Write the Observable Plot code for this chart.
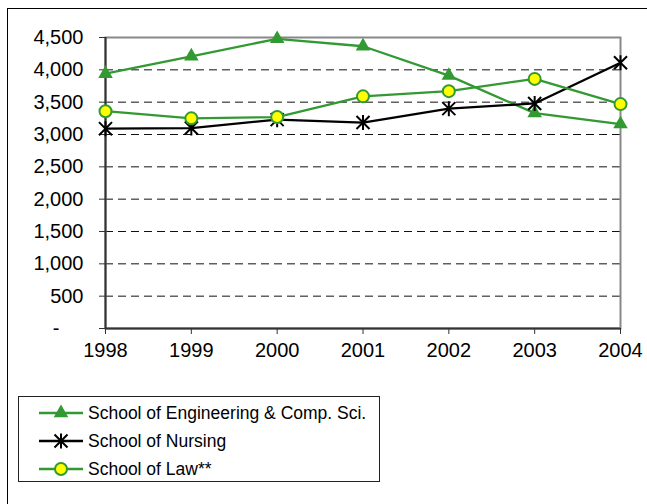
<!DOCTYPE html>
<html><head><meta charset="utf-8">
<script src="https://cdn.jsdelivr.net/npm/d3@7"></script>
<script src="https://cdn.jsdelivr.net/npm/@observablehq/plot@0.6"></script>
<style>
body{margin:0;background:#fff;font-family:"Liberation Sans",Arial,sans-serif;}
#wrap{position:relative;width:647px;height:504px;overflow:hidden;background:#fff;}
#border{position:absolute;left:7px;top:8px;width:700px;height:600px;border:1.5px solid #000;box-sizing:border-box;}
#chart{position:absolute;left:0;top:0;}
#legend{position:absolute;left:18px;top:396px;width:362px;height:86px;border:1px solid #222;box-sizing:border-box;}
.row{position:absolute;left:0;height:28px;width:360px;}
.row svg{position:absolute;left:0;top:0;}
.row span{position:absolute;left:69px;top:0;line-height:28px;font-size:17.5px;color:#000;white-space:nowrap;}
</style></head><body>
<div id="wrap"><div id="border"></div><div id="chart"></div><div id="legend"></div></div>
<script>
// ---- data ----
const years = [1998, 1999, 2000, 2001, 2002, 2003, 2004];
const engineering = [3940, 4210, 4480, 4365, 3910, 3330, 3160];
const nursing = [3090, 3100, 3230, 3185, 3400, 3480, 4110];
const law = [3360, 3250, 3270, 3590, 3670, 3860, 3470];
const seriesNames = ["School of Engineering & Comp. Sci.", "School of Nursing", "School of Law**"];
const yTicks = [0, 500, 1000, 1500, 2000, 2500, 3000, 3500, 4000, 4500];
const gridValues = [500, 1000, 1500, 2000, 2500, 3000, 3500, 4000];

const green = "#339933";
const toRows = (vals, name) => years.map((yr, i) => ({year: yr, value: vals[i], series: name}));
const engData = toRows(engineering, seriesNames[0]);
const nurData = toRows(nursing, seriesNames[1]);
const lawData = toRows(law, seriesNames[2]);

// Excel-like star marker: vertical bar + X
const star = {
  draw(ctx, size) {
    const r = Math.sqrt(size / Math.PI);
    const d = r * 0.87;
    ctx.moveTo(0, -r); ctx.lineTo(0, r);
    ctx.moveTo(-d, -d); ctx.lineTo(d, d);
    ctx.moveTo(-d, d); ctx.lineTo(d, -d);
  }
};

const fmt = d3.format(",");
const chart = Plot.plot({
  width: 647, height: 380,
  marginLeft: 105, marginRight: 27, marginTop: 37, marginBottom: 52,
  x: {domain: [1998, 2004]},
  y: {domain: [0, 4500]},
  style: {fontFamily: "'Liberation Sans', Arial, sans-serif", fontSize: "20px", color: "#000", background: "transparent", overflow: "visible"},
  marks: [
    Plot.ruleY(gridValues, {stroke: "#111", strokeDasharray: "8,5", strokeWidth: 1}),
    Plot.frame({stroke: "#888", strokeWidth: 2}),
    Plot.ruleX([1998], {stroke: "#333", strokeWidth: 2}),
    Plot.ruleY([0], {stroke: "#333", strokeWidth: 2}),
    Plot.axisY({ticks: yTicks.filter(d => d > 0), tickSize: 6, tickPadding: 16, tickFormat: fmt, stroke: "#333", fontSize: 20, label: null}),
    Plot.axisY({ticks: [0], tickSize: 6, tickPadding: 40, tickFormat: () => "-", stroke: "#333", fontSize: 20, label: null}),
    Plot.axisX({ticks: years, tickSize: 6, tickPadding: 8, tickFormat: d => String(d), stroke: "#333", fontSize: 20, label: null}),
    Plot.line(engData, {x: "year", y: "value", stroke: green, strokeWidth: 2.3}),
    Plot.dot(engData, {x: "year", y: "value", symbol: "triangle", r: 5.4, fill: green, stroke: "none"}),
    Plot.line(nurData, {x: "year", y: "value", stroke: "#000", strokeWidth: 2.3}),
    Plot.dot(nurData, {x: "year", y: "value", symbol: star, r: 7.5, fill: "none", stroke: "#000", strokeWidth: 2}),
    Plot.line(lawData, {x: "year", y: "value", stroke: green, strokeWidth: 2.3}),
    Plot.dot(lawData, {x: "year", y: "value", symbol: "circle", r: 6, fill: "#ffff00", stroke: green, strokeWidth: 2})
  ]
});
document.getElementById("chart").appendChild(chart);

// ---- legend ----
const legend = document.getElementById("legend");
const rowTops = [2, 30, 58];
const swatches = [
  {color: green, marker: `<path d="${d3.symbol(d3.symbolTriangle, Math.PI * 5.4 * 5.4)()}" fill="${green}"/>`},
  {color: "#000", marker: `<path d="M0,-7.5L0,7.5M-6.5,-6.5L6.5,6.5M-6.5,6.5L6.5,-6.5" stroke="#000" stroke-width="2" fill="none"/>`},
  {color: green, marker: `<circle r="6" fill="#ffff00" stroke="${green}" stroke-width="2"/>`}
];
seriesNames.forEach((name, i) => {
  const row = document.createElement("div");
  row.className = "row";
  row.style.top = rowTops[i] + "px";
  row.innerHTML = `<svg width="70" height="28"><line x1="20" x2="64" y1="14" y2="14" stroke="${swatches[i].color}" stroke-width="2.3"/><g transform="translate(42,14)">${swatches[i].marker}</g></svg><span></span>`;
  row.querySelector("span").textContent = name;
  legend.appendChild(row);
});
</script>
</body></html>
